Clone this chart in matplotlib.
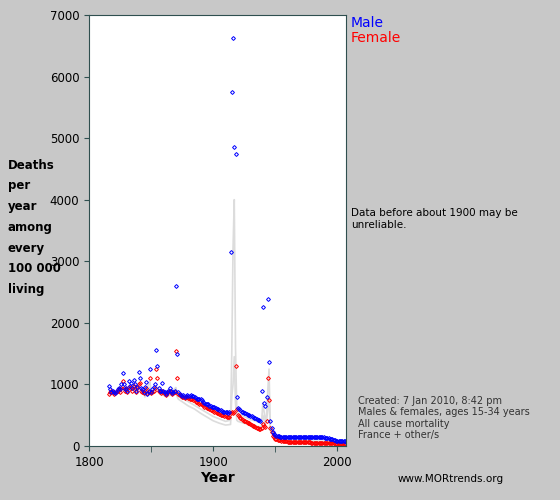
import matplotlib
matplotlib.use("Agg")
import matplotlib.pyplot as plt
import numpy as np

years = list(range(1816, 2008))
male = [980, 920, 880, 900,
 870, 860, 880, 930, 950, 920, 1000, 1180, 1000, 920,
 950, 900, 1050, 980, 1020, 940, 1080, 1000, 900, 960,
 1200, 1100, 950, 920, 880, 960, 1040, 850, 900, 1250,
 880, 920, 960, 1000, 1560, 1300, 950, 900, 900, 1020,
 900, 870, 840, 880, 900, 950, 900, 860, 880, 900,
 2600, 1500, 870, 850, 830, 820, 830, 800, 820, 830,
 820, 810, 830, 820, 810, 800, 780, 770, 760, 760,
 760, 740, 720, 700, 690, 680, 680, 650, 650, 640,
 640, 640, 620, 600, 600, 590, 580, 570, 560, 560,
 560, 550, 540, 560, 3150, 5750, 6620, 4850, 4750, 800,
 620, 600, 580, 560, 550, 540, 530, 520, 510, 500,
 480, 480, 470, 460, 450, 440, 430, 420, 410, 900,
 2250, 700, 650, 800, 2380, 1370, 400, 300, 230, 200,
 180, 170, 160, 155, 150, 150, 145, 145, 140, 140,
 140, 140, 140, 140, 140, 140, 140, 140, 140, 145,
 145, 145, 145, 145, 145, 145, 145, 145, 145, 145,
 140, 140, 140, 140, 140, 140, 140, 140, 140, 140,
 135, 130, 130, 125, 120, 115, 110, 100, 90, 85,
 85, 85, 80, 80, 75, 75, 75, 70]
female = [850, 880, 900, 880,
 850, 860, 870, 900, 920, 880, 950, 1050, 950, 900,
 920, 880, 960, 940, 960, 900, 980, 950, 880, 940,
 1000, 1020, 900, 880, 860, 900, 950, 860, 880, 1100,
 860, 880, 900, 950, 1250, 1100, 900, 880, 860, 900,
 880, 850, 830, 860, 870, 900, 880, 850, 860, 870,
 1540, 1100, 850, 830, 810, 800, 800, 780, 790, 790,
 780, 770, 770, 760, 750, 740, 720, 710, 700, 690,
 690, 680, 660, 640, 630, 620, 610, 600, 590, 580,
 570, 560, 550, 540, 530, 520, 510, 500, 500, 490,
 480, 470, 470, 470, 530, 560, 540, 560, 1300, 600,
 500, 480, 460, 440, 420, 410, 400, 390, 380, 370,
 350, 340, 330, 320, 310, 300, 290, 280, 270, 300,
 350, 330, 310, 400, 1100, 750, 300, 220, 170, 140,
 120, 110, 100, 95, 90, 85, 80, 80, 75, 75,
 70, 70, 68, 68, 66, 66, 65, 65, 64, 64,
 62, 62, 60, 60, 60, 58, 58, 57, 57, 56,
 55, 55, 54, 54, 53, 53, 52, 52, 52, 50,
 50, 49, 48, 48, 46, 45, 44, 42, 40, 40,
 40, 40, 38, 38, 37, 36, 35, 34]
gray_years = [1845, 1849, 1850, 1855, 1860, 1865, 1870, 1871, 1872, 1875, 1880, 1885, 1890, 1895,
              1900, 1905, 1910, 1914, 1915, 1916, 1917, 1918, 1919, 1920, 1925, 1930, 1935,
              1939, 1940, 1942, 1943, 1944, 1945, 1946, 1950, 1960, 1970, 1980, 1990, 2000, 2007]
gray1 = [850, 1050, 900, 950, 850, 850, 950, 850, 800, 780, 720, 660, 600, 540,
         480, 440, 400, 420, 1500, 3200, 4000, 1600, 600, 520, 480, 430, 400,
         380, 700, 420, 500, 900, 1250, 300, 180, 130, 120, 110, 100, 80, 60]
gray2 = [800, 950, 850, 900, 820, 820, 880, 800, 760, 720, 650, 600, 530, 470,
         410, 370, 340, 350, 800, 1000, 1450, 700, 420, 400, 370, 340, 320,
         310, 500, 350, 400, 600, 800, 250, 150, 100, 90, 80, 70, 55, 40]
ylabel_lines = ["Deaths", "per", "year", "among", "every", "100 000", "living"]

fig = plt.figure(figsize=(5.6, 5.0), dpi=100)
fig.patch.set_facecolor("#c8c8c8")
ax = fig.add_axes([89/560, 54/500, 257/560, 431/500])
ax.set_facecolor("white")
ax.plot(gray_years, gray1, color="#dcdcdc", lw=1.2)
ax.plot(gray_years, gray2, color="#dcdcdc", lw=1.2)
ax.plot(years, female, ls="none", marker="D", ms=2.0, mfc="none", mec="red", mew=0.7)
ax.plot(years, male, ls="none", marker="D", ms=2.0, mfc="none", mec="blue", mew=0.7)
ax.set_xlim(1800, 2007)
ax.set_ylim(0, 7000)
ax.set_xticks([1800, 1900, 2000])
ax.set_xticks([1850, 1950], minor=True)
ax.set_yticks(range(0, 7001, 1000))
for s in ax.spines.values():
    s.set_color("#2f4f4f")
ax.tick_params(colors="#2f4f4f", labelcolor="black", labelsize=8.5)
ax.tick_params(which="minor", length=4, colors="#2f4f4f")
ax.set_xlabel("Year", fontsize=10, fontweight="bold", labelpad=2)

for i, t in enumerate(ylabel_lines):
    fig.text(8/560, 1-(165 + i*20.8)/500, t, fontsize=8.5, fontweight="bold", va="center", ha="left")
fig.text(351/560, 1-23/500, "Male", color="blue", fontsize=10, va="center")
fig.text(351/560, 1-38/500, "Female", color="red", fontsize=10, va="center")
fig.text(351/560, 1-219/500, "Data before about 1900 may be\nunreliable.", fontsize=7.5, va="center")
fig.text(358/560, 1-418/500, "Created: 7 Jan 2010, 8:42 pm\nMales & females, ages 15-34 years\nAll cause mortality\nFrance + other/s",
         fontsize=7, va="center", color="#333333", linespacing=1.15)
fig.text(398/560, 1-479/500, "www.MORtrends.org", fontsize=7.5, va="center")
fig.savefig("out.png", dpi=100, facecolor=fig.get_facecolor())
